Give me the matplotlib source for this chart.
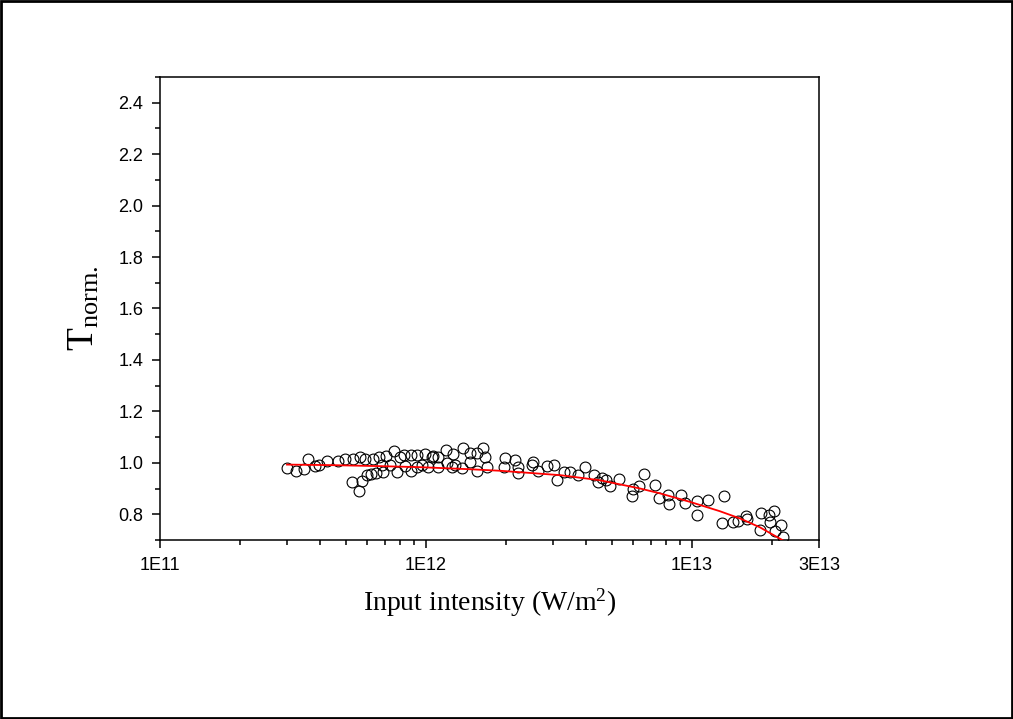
import numpy as np
import matplotlib.pyplot as plt
from matplotlib.patches import Rectangle
from matplotlib.ticker import FixedLocator, NullFormatter

plt.rcParams['mathtext.fontset'] = 'custom'
plt.rcParams['mathtext.rm'] = 'Liberation Serif'
plt.rcParams['mathtext.it'] = 'Liberation Serif:italic'

# ___ measured points (input intensity W/m^2, normalised transmission) ___ #
intensity = [3.00e11, 3.24e11, 3.49e11, 3.61e11, 3.83e11, 3.97e11, 4.23e11, 4.68e11, 4.96e11, 5.30e11,
             5.65e11, 5.90e11, 6.30e11, 6.68e11, 7.07e11, 7.58e11, 7.99e11, 8.27e11, 8.76e11, 5.26e11,
             5.61e11, 5.76e11, 5.99e11, 6.20e11, 6.49e11, 6.82e11, 7.32e11, 7.76e11, 8.34e11, 8.76e11,
             9.25e11, 9.23e11, 9.91e11, 1.05e12, 1.11e12, 1.19e12, 1.26e12, 1.38e12, 1.46e12, 1.56e12,
             1.64e12, 1.67e12, 9.63e11, 1.02e12, 1.11e12, 1.20e12, 1.25e12, 1.36e12, 1.46e12, 1.55e12,
             1.69e12, 1.98e12, 1.97e12, 2.16e12, 2.22e12, 2.21e12, 2.53e12, 2.50e12, 2.64e12, 2.84e12,
             3.03e12, 3.10e12, 3.30e12, 3.48e12, 3.74e12, 3.96e12, 4.28e12, 4.44e12, 4.58e12, 4.75e12,
             4.92e12, 5.33e12, 5.99e12, 5.95e12, 6.34e12, 6.60e12, 7.26e12, 7.54e12, 8.15e12, 8.20e12,
             9.07e12, 9.41e12, 1.04e13, 1.04e13, 1.15e13, 1.32e13, 1.30e13, 1.43e13, 1.49e13, 1.60e13,
             1.61e13, 1.82e13, 1.80e13, 1.94e13, 2.03e13, 1.97e13, 2.16e13, 2.05e13, 2.19e13, 6.89e11,
             1.29e12, 1.06e12]
t_norm = [0.980, 0.968, 0.974, 1.013, 0.987, 0.993, 1.006, 1.006, 1.013, 1.015,
          1.021, 1.013, 1.013, 1.023, 1.026, 1.046, 1.023, 1.032, 1.032, 0.926,
          0.892, 0.928, 0.952, 0.956, 0.961, 0.991, 0.991, 0.965, 0.988, 0.968,
          0.985, 1.030, 1.036, 1.023, 1.023, 1.049, 1.036, 1.056, 1.039, 1.039,
          1.056, 1.023, 0.991, 0.982, 0.984, 1.001, 0.984, 0.978, 1.004, 0.968,
          0.982, 1.017, 0.984, 1.010, 0.984, 0.961, 1.004, 0.991, 0.968, 0.987,
          0.993, 0.935, 0.965, 0.965, 0.952, 0.984, 0.952, 0.926, 0.941, 0.932,
          0.909, 0.936, 0.900, 0.870, 0.909, 0.956, 0.913, 0.865, 0.874, 0.838,
          0.874, 0.842, 0.851, 0.799, 0.854, 0.870, 0.766, 0.770, 0.774, 0.793,
          0.783, 0.803, 0.740, 0.796, 0.813, 0.770, 0.757, 0.734, 0.712, 0.965,
          0.991, 1.026]

# ___ fitted curve ___ #
fit_intensity = [3.00e11, 4.36e11, 6.72e11, 9.49e11, 1.46e12, 1.90e12, 3.19e12, 4.51e12,
                 6.38e12, 7.58e12, 9.83e12, 1.27e13, 1.52e13, 1.80e13, 2.19e13]
fit_t = [0.993, 0.991, 0.987, 0.983, 0.975, 0.969, 0.952, 0.932,
         0.900, 0.881, 0.848, 0.812, 0.783, 0.749, 0.699]

x_ticks = [1e11, 1e12, 1e13, 3e13]
x_tick_labels = ['1E11', '1E12', '1E13', '3E13']
y_ticks = [0.8, 1.0, 1.2, 1.4, 1.6, 1.8, 2.0, 2.2, 2.4]

fig = plt.figure(figsize=(10.13, 7.19), dpi=100)
ax = fig.add_axes([0.158, 0.249, 0.6505, 0.644])

ax.plot(intensity, t_norm, 'o', ms=7.8, mfc='none', mec='black', mew=0.8, zorder=2)
ax.plot(fit_intensity, fit_t, '-', color='red', lw=1.3, zorder=3)

ax.set_xscale('log')
ax.set_xlim(1e11, 3e13)
ax.set_ylim(0.7, 2.5)

ax.xaxis.set_major_locator(FixedLocator(x_ticks))
ax.set_xticklabels(x_tick_labels)
minor_x = [m * 10 ** p for p in (11, 12) for m in range(2, 10)] + [2e13]
ax.xaxis.set_minor_locator(FixedLocator(minor_x))
ax.xaxis.set_minor_formatter(NullFormatter())
ax.set_yticks(y_ticks)
ax.set_yticklabels(['%.1f' % v for v in y_ticks])
ax.yaxis.set_minor_locator(FixedLocator(np.arange(0.7, 2.55, 0.2)))

ax.tick_params(which='major', direction='out', length=6, width=1.1, labelsize=13, pad=6)
ax.tick_params(which='minor', direction='out', length=3.5, width=1.1)
for lab in ax.get_xticklabels() + ax.get_yticklabels():
    lab.set_family('Liberation Sans')
for s in ax.spines.values():
    s.set_linewidth(1.1)

ax.set_xlabel(r'Input intensity (W/m$^2$)', family='Liberation Serif', fontsize=20, labelpad=9)
ax.set_ylabel(r'$\mathrm{T}_{\mathrm{norm.}}$', fontsize=27, labelpad=12)

fig.patches.append(Rectangle((0.001, 0.001), 0.998, 0.997, transform=fig.transFigure,
                             fill=False, edgecolor='black', lw=2))

fig.savefig('out.png', dpi=100)
